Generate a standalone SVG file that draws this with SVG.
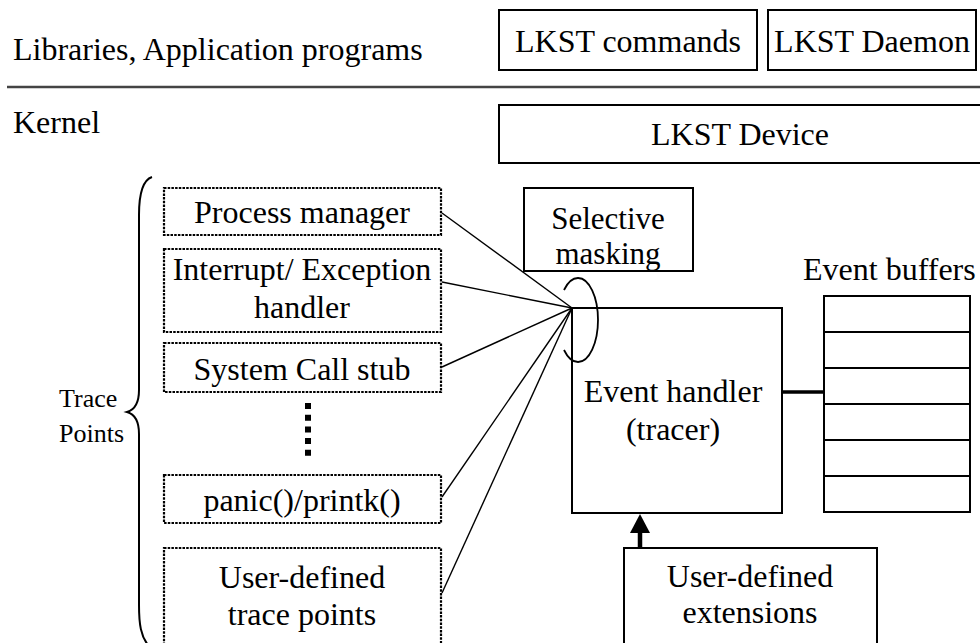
<svg xmlns="http://www.w3.org/2000/svg" width="980" height="643" viewBox="0 0 980 643">
<style>
.t{font-family:"Liberation Serif","Times New Roman",serif;font-size:32px;fill:#000}
.c{text-anchor:middle}
.s{font-size:26px}
.m{font-size:31px}
.box{fill:#fff;stroke:#000;stroke-width:2}
.dot{fill:#fff;stroke:#000;stroke-width:2.2;stroke-dasharray:2.5 1.2}
.ln{fill:none;stroke:#000;stroke-width:1.4}
</style>
<rect width="980" height="643" fill="#fff"/>
<g id="layers">
<text class="t" x="13" y="60">Libraries, Application programs</text>
<line x1="7" y1="87" x2="980" y2="87" stroke="#444" stroke-width="2.5"/>
<text class="t" x="13" y="133">Kernel</text>
</g>
<g id="lkst-commands"><rect class="box" x="499" y="10" width="258" height="60"/><text class="t c" x="628" y="52">LKST commands</text></g>
<g id="lkst-daemon"><rect class="box" x="768" y="10" width="208" height="60"/><text class="t c" x="872" y="52">LKST Daemon</text></g>
<g id="lkst-device"><rect class="box" x="499" y="105" width="490" height="58"/><text class="t c" x="740" y="145">LKST Device</text></g>
<g id="trace-points-label">
<path class="ln" style="stroke-width:2" d="M152,177 C143,180 139,195 139,215 L139,390 C139,403 134,410 127,412 C134,414 139,421 139,434 L139,605 C139,625 141,636 148,645"/>
<text class="t s" x="59" y="407">Trace</text>
<text class="t s" x="59" y="442">Points</text>
</g>
<g id="process-manager"><rect class="dot" x="164" y="188" width="277" height="47"/><text class="t c" x="302" y="223">Process manager</text></g>
<g id="interrupt-handler"><rect class="dot" x="164" y="249" width="277" height="83"/><text class="t c" x="302" y="280">Interrupt/ Exception</text><text class="t c" x="302" y="318">handler</text></g>
<g id="syscall-stub"><rect class="dot" x="164" y="343" width="277" height="49"/><text class="t c" x="302" y="380">System Call stub</text></g>
<g id="ellipsis"><line x1="308" y1="403" x2="308" y2="460" stroke="#000" stroke-width="6" stroke-dasharray="6 5.7"/></g>
<g id="panic-printk"><rect class="dot" x="164" y="475" width="277" height="48"/><text class="t c" x="302" y="511">panic()/printk()</text></g>
<g id="user-trace-points"><rect class="dot" x="164" y="548" width="277" height="110"/><text class="t c" x="302" y="588">User-defined</text><text class="t c" x="302" y="625">trace points</text></g>
<g id="selective-masking"><rect class="box" x="524" y="188" width="169" height="83"/><text class="t c m" x="608" y="229">Selective</text><text class="t c m" x="608" y="264">masking</text></g>
<g id="event-handler"><rect class="box" x="572" y="308" width="210" height="205"/><text class="t c" x="673" y="402">Event handler</text><text class="t c" x="673" y="440">(tracer)</text></g>
<g id="event-buffers">
<text class="t" x="803" y="280">Event buffers</text>
<rect class="box" x="824" y="296" width="146" height="216"/>
<path d="M824,332H970M824,368H970M824,404H970M824,440H970M824,476H970" stroke="#000" stroke-width="2"/>
</g>
<g id="user-extensions"><rect class="box" x="624" y="548" width="253" height="110"/><text class="t c" x="750" y="587">User-defined</text><text class="t c" x="750" y="623">extensions</text></g>
<g id="connectors">
<line class="ln" x1="442" y1="213" x2="572" y2="308"/>
<line class="ln" x1="442" y1="282" x2="572" y2="308"/>
<line class="ln" x1="442" y1="367" x2="572" y2="308"/>
<line class="ln" x1="442" y1="497" x2="572" y2="308"/>
<line class="ln" x1="442" y1="593" x2="572" y2="308"/>
<path class="ln" style="stroke-width:1.8" d="M564,290 A20,42 0 1 1 564,350"/>
<line x1="782" y1="392" x2="824" y2="392" stroke="#000" stroke-width="3.5"/>
<line x1="640" y1="548" x2="640" y2="530" stroke="#000" stroke-width="4.5"/>
<path d="M630,533 L650,533 L640,514 Z" fill="#000"/>
</g>
</svg>
